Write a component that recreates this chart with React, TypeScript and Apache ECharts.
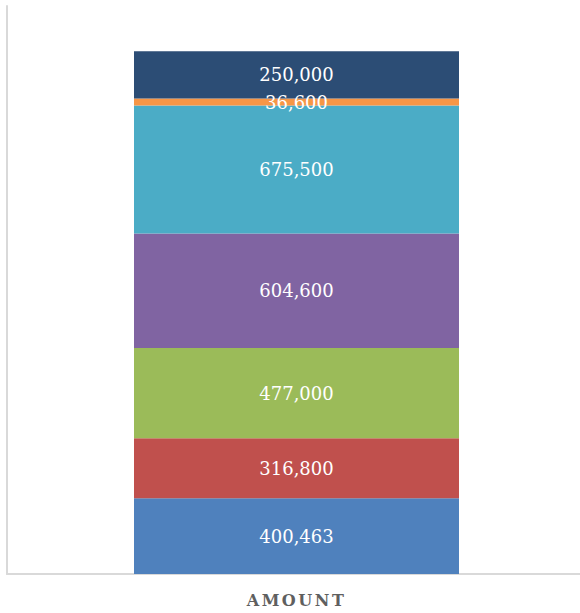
import React, { useEffect, useRef } from "react";
import * as echarts from "echarts";

const categories = ["AMOUNT"];
const seriesNames = ["S1", "S2", "S3", "S4", "S5", "S6", "S7"];
const seriesValues = [400463, 316800, 477000, 604600, 675500, 36600, 250000];
const seriesColors = ["#4F81BD", "#C0504D", "#9BBB59", "#8064A2", "#4BACC6", "#F79646", "#2C4D75"];

export default function App() {
  const ref = useRef<HTMLDivElement>(null);
  useEffect(() => {
    document.body.style.margin = "0";
    document.body.style.overflow = "hidden";
    const chart = echarts.init(ref.current!, null, { renderer: "svg" });
    chart.setOption({
      animation: false,
      grid: { left: 7, right: 0, top: 6, bottom: 39, containLabel: false },
      xAxis: {
        type: "category",
        data: categories,
        axisLine: { show: true, lineStyle: { color: "#d9d9d9", width: 2 } },
        axisTick: { show: false },
        axisLabel: {
          color: "#5f5f5f",
          fontFamily: "DejaVu Serif",
          fontSize: 16,
          fontWeight: "bold",
          margin: 18,
        },
      },
      yAxis: {
        type: "value",
        min: 0,
        max: 3000000,
        axisLine: { show: true, lineStyle: { color: "#d9d9d9", width: 2 } },
        axisTick: { show: false },
        axisLabel: { show: false },
        splitLine: { show: false },
      },
      series: seriesValues.map((v, i) => ({
        name: seriesNames[i],
        type: "bar",
        stack: "total",
        barWidth: 325,
        data: [v],
        itemStyle: { color: seriesColors[i] },
        label: {
          show: true,
          position: "inside",
          color: "#ffffff",
          fontFamily: "DejaVu Serif",
          fontSize: 18,
          formatter: (p: any) => Number(p.value).toLocaleString("en-US"),
        },
      })),
    });
    const svg = ref.current!.querySelector("svg");
    if (svg) {
      svg.querySelectorAll("text").forEach((t) => {
        if (t.textContent === "AMOUNT") {
          t.style.letterSpacing = "2.5px";
        }
      });
    }
    return () => chart.dispose();
  }, []);
  return (
    <div style={{ width: 580, height: 613, overflow: "hidden" }}>
      <div ref={ref} style={{ width: 586, height: 613 }} />
    </div>
  );
}
